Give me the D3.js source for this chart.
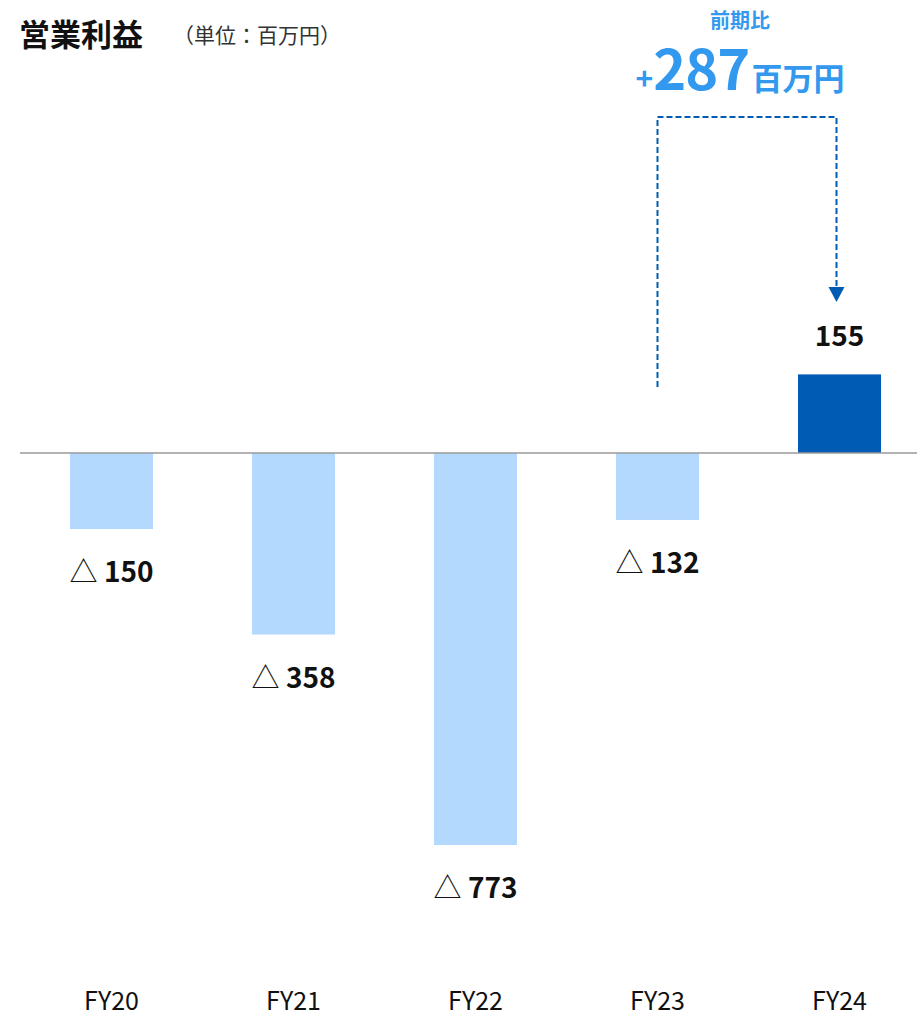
<!DOCTYPE html>
<html>
<head>
<meta charset="utf-8">
<script src="https://cdn.jsdelivr.net/npm/d3@7"></script>
<style>
  html, body { margin: 0; padding: 0; background: #fff; }
  svg { display: block; font-family: "Noto Sans CJK JP", "Noto Sans", sans-serif; }
</style>
</head>
<body>
<svg id="chart" width="917" height="1014"></svg>
<script>
// Operating profit by fiscal year (millions of yen)
const years = ["FY20", "FY21", "FY22", "FY23", "FY24"];
const profit = [-150, -358, -773, -132, 155];
const changeLabel = "+287";
const changeUnit = "百万円";

const svg = d3.select("#chart");

const x = d3.scaleBand()
  .domain(years)
  .range([20.5, 930.5])
  .paddingInner(0.544)
  .paddingOuter(0.272);

const y = d3.scaleLinear()
  .domain([-773, 155])
  .range([845, 374.4]);

const light = "#b3d9ff";
const dark = "#005bb4";
const accent = "#3399ef";

// Title
svg.append("text")
  .attr("x", 19).attr("y", 46)
  .attr("font-size", 31).attr("font-weight", 700).attr("fill", "#111")
  .text("営業利益");
svg.append("text")
  .attr("x", 173).attr("y", 43)
  .attr("font-size", 21).attr("fill", "#333")
  .text("（単位：百万円）");

// Bars
svg.selectAll("rect.bar")
  .data(years)
  .join("rect")
  .attr("class", "bar")
  .attr("x", d => x(d))
  .attr("width", x.bandwidth())
  .attr("y", (d, i) => y(Math.max(0, profit[i])))
  .attr("height", (d, i) => Math.abs(y(profit[i]) - y(0)))
  .attr("fill", (d, i) => profit[i] >= 0 ? dark : light);

// Zero baseline
svg.append("line")
  .attr("x1", 20).attr("x2", 917)
  .attr("y1", y(0)).attr("y2", y(0))
  .attr("stroke", "#9a9a9a").attr("stroke-width", 1.5);

// Value labels (negative values marked with △)
const labels = svg.selectAll("g.val")
  .data(years)
  .join("g")
  .attr("class", "val")
  .attr("transform", (d, i) => {
    const cx = x(d) + x.bandwidth() / 2;
    const ty = profit[i] >= 0 ? y(profit[i]) - 28 : y(profit[i]) + 53;
    return `translate(${cx},${ty})`;
  });

labels.append("text")
  .attr("text-anchor", "middle")
  .attr("font-size", 28).attr("font-weight", 700).attr("fill", "#111")
  .each(function(d, i) {
    const t = d3.select(this);
    const v = profit[i];
    if (v < 0) {
      t.append("tspan").attr("font-weight", 400).text("△");
      t.append("tspan").text(" " + Math.abs(v));
    } else {
      t.text(v);
    }
  });

// Category labels
svg.selectAll("text.cat")
  .data(years)
  .join("text")
  .attr("class", "cat")
  .attr("x", d => x(d) + x.bandwidth() / 2)
  .attr("y", 1010)
  .attr("text-anchor", "middle")
  .attr("font-size", 25).attr("fill", "#111")
  .text(d => d);

// Year-on-year change bracket
const fromX = x("FY23") + x.bandwidth() / 2;
const toX = x("FY24") + x.bandwidth() / 2 - 3;
const topY = 117;
svg.append("path")
  .attr("d", `M${fromX},387 V${topY} H${toX} V289`)
  .attr("fill", "none")
  .attr("stroke", dark)
  .attr("stroke-width", 2)
  .attr("stroke-dasharray", "6,3");
svg.append("path")
  .attr("d", `M${toX - 8},287 L${toX + 8},287 L${toX},302 Z`)
  .attr("fill", dark);

const midX = 740;
svg.append("text")
  .attr("x", midX).attr("y", 28)
  .attr("text-anchor", "middle")
  .attr("font-size", 20).attr("font-weight", 700).attr("fill", accent)
  .text("前期比");

const big = svg.append("text")
  .attr("x", midX).attr("y", 90)
  .attr("text-anchor", "middle")
  .attr("font-weight", 700).attr("fill", accent);
big.append("tspan").attr("font-size", 30).text(changeLabel.slice(0, 1));
big.append("tspan").attr("font-size", 56).attr("letter-spacing", -1).text(changeLabel.slice(1));
big.append("tspan").attr("font-size", 31).attr("dx", 2).text(changeUnit);
</script>
</body>
</html>
